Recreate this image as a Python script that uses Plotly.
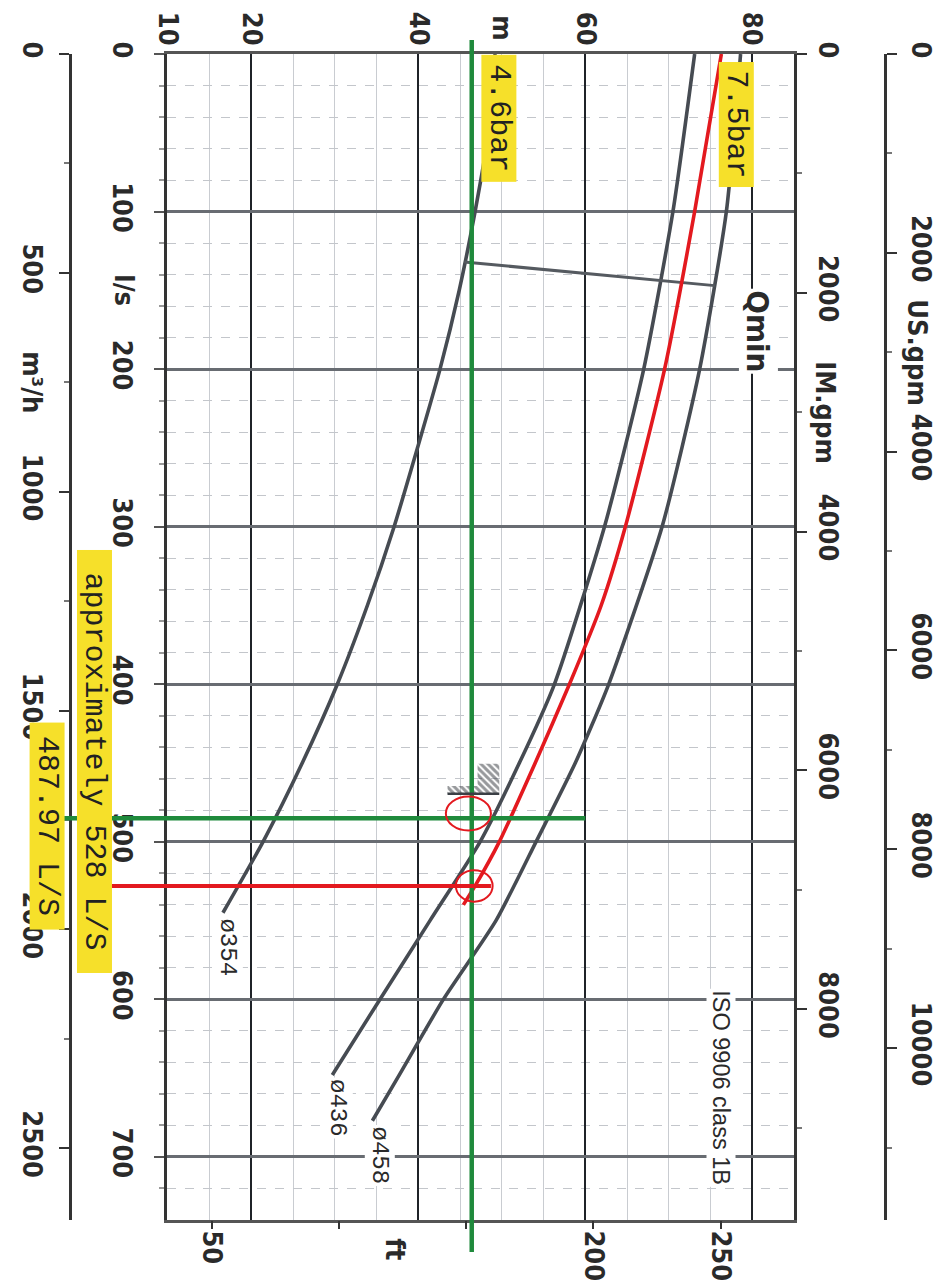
import plotly.graph_objects as go

# ---------------- data ----------------
# axis extents: head (m) horizontal, flow (l/s) vertical (downwards)
H_RANGE = [9.9, 85.0]
Q_RANGE = [740.0, 0.0]

M3H_PER_LS = 3.6
USGPM_PER_LS = 15.8503
IMGPM_PER_LS = 13.1981
FT_PER_M = 3.28084

head_major = [10, 20, 40, 60, 80]
head_minor = [15, 25, 30, 35, 45, 50, 55, 65, 70, 75]
flow_major = [0, 100, 200, 300, 400, 500, 600, 700]
flow_minor = [q for q in range(20, 740, 20) if q % 100 != 0]
m3h_ticks = [0, 500, 1000, 1500, 2000, 2500]
m3h_minor = [250, 750, 1250, 1750, 2250]
usgpm_ticks = [0, 2000, 4000, 6000, 8000, 10000]
usgpm_minor = [1000, 3000, 5000, 7000, 9000, 11000]
imgpm_ticks = [0, 2000, 4000, 6000, 8000]
imgpm_minor = [1000, 3000, 5000, 7000, 9000]
ft_ticks = [50, 100, 150, 200, 250]
ft_ticktext = ["50", "", "", "200", "250"]

# pump curves (flow l/s, head m)
q354 = [0, 50, 100, 150, 200, 250, 300, 350, 400, 450, 500, 545]
h354 = [49.2, 48.4, 46.8, 44.9, 42.6, 39.9, 37.1, 33.9, 30.3, 26.1, 21.4, 16.6]
q436 = [0, 100, 200, 300, 400, 450, 500, 550, 600, 648]
h436 = [73.1, 70.5, 67.0, 62.3, 56.3, 52.1, 47.4, 41.4, 35.4, 29.7]
q458 = [0, 100, 200, 300, 400, 450, 500, 550, 600, 650, 677]
h458 = [78.6, 76.9, 73.7, 69.2, 62.8, 58.8, 54.1, 49.3, 43.0, 37.5, 34.5]
q_red = [0, 100, 200, 300, 350, 400, 450, 500, 528, 540]
h_red = [76.3, 73.1, 69.5, 64.8, 61.9, 58.1, 54.0, 49.7, 46.8, 45.4]

# Qmin line
qmin_q = [132, 147]
qmin_h = [45.5, 75.5]

# operating point lines
design_head = 46.4          # 4.6 bar
q_green = 485.0             # 487.97 L/S
green_end_h = 60.0
q_redline = 528.0           # approx 528 L/S
red_end_h = 48.7

# red circles (centre head, centre flow, half-width m, half-height l/s)
circ_h = [46.0, 46.7]
circ_q = [482.0, 528.0]
circ_dh = [2.7, 2.2]
circ_dq = [10.8, 10.0]

# hatched mark
hatch_h = [43.5, 49.7, 49.7, 47.1, 47.1, 43.5, 43.5]
hatch_q = [469.5, 469.5, 450.5, 450.5, 464.5, 464.5, 469.5]

# ---------------- layout geometry (reference pixel positions) ----------------
W, HGT = 945, 1280
OFF = 8                     # page body offset of the figure
REF_L, REF_R, REF_T, REF_B = 167, 794, 54, 1220
MT = REF_T - OFF
MB = HGT - (REF_B - OFF)
X_DOM = [(REF_L - OFF) / W, (REF_R - OFF) / W]


def px(x_ref):
    return (x_ref - OFF) / W


def py(y_ref):
    return (HGT - MB - (y_ref - OFF)) / (HGT - MT - MB)


def h_to_paper(h):
    return X_DOM[0] + (h - H_RANGE[0]) / (H_RANGE[1] - H_RANGE[0]) * (X_DOM[1] - X_DOM[0])


SANS_N = "Liberation Sans Narrow, Arial Narrow, DejaVu Sans Condensed, Liberation Sans, sans-serif"
TICKFONT = dict(family=SANS_N, size=27, color="#2a2a2a", weight="bold")
MONO = "Liberation Mono, DejaVu Sans Mono, monospace"
GRAY = "#464b52"
RED = "#e3191f"
GREEN = "#1f8a3c"
YELLOW = "#f6e02a"

fig = go.Figure()

for qq, hh in [(q354, h354), (q436, h436), (q458, h458)]:
    fig.add_trace(go.Scatter(x=hh, y=qq, mode="lines", line=dict(color=GRAY, width=3.6, shape="spline", smoothing=0.6),
                             hoverinfo="skip", showlegend=False))
fig.add_trace(go.Scatter(x=qmin_h, y=qmin_q, mode="lines", line=dict(color="#555a60", width=3),
                         hoverinfo="skip", showlegend=False))
fig.add_trace(go.Scatter(x=h_red, y=q_red, mode="lines", line=dict(color=RED, width=3.6, shape="spline", smoothing=0.6),
                         hoverinfo="skip", showlegend=False))
fig.add_trace(go.Scatter(x=hatch_h, y=hatch_q, mode="lines", fill="toself", line=dict(width=0, color="rgba(0,0,0,0)"),
                         fillcolor="rgba(0,0,0,0)",
                         fillpattern=dict(shape="\\", fgcolor="#2e3237", bgcolor="rgba(0,0,0,0)", size=5, solidity=0.6),
                         hoverinfo="skip", showlegend=False))

shapes = []
shapes.append(dict(type="line", xref="x", yref="paper", x0=design_head, x1=design_head,
                   y0=py(1252), y1=py(40), line=dict(color=GREEN, width=4.5)))
shapes.append(dict(type="line", xref="paper", yref="y", x0=px(63), x1=h_to_paper(green_end_h),
                   y0=q_green, y1=q_green, line=dict(color=GREEN, width=4.5)))
shapes.append(dict(type="line", xref="paper", yref="y", x0=px(110), x1=h_to_paper(red_end_h),
                   y0=q_redline, y1=q_redline, line=dict(color=RED, width=4)))
for ch, cq, dh, dq in zip(circ_h, circ_q, circ_dh, circ_dq):
    shapes.append(dict(type="circle", xref="x", yref="y", x0=ch - dh, x1=ch + dh, y0=cq - dq, y1=cq + dq,
                       line=dict(color=RED, width=2)))
shapes.append(dict(type="line", xref="x", yref="y", x0=hatch_h[0], x1=hatch_h[1], y0=hatch_q[0], y1=hatch_q[0],
                   line=dict(color="#3a3f45", width=2.5)))

ann = []


def label(text, x, y, xref="x", yref="y", size=27, family=SANS_N, bg=None, width=None, height=None,
          color="#2a2a2a", weight="bold"):
    d = dict(text=text, x=x, y=y, xref=xref, yref=yref, showarrow=False, textangle=90,
             font=dict(family=family, size=size, color=color, weight=weight),
             xanchor="center", yanchor="middle", borderpad=1)
    if bg:
        d["bgcolor"] = bg
    if width:
        d["width"] = width
    if height:
        d["height"] = height
    ann.append(d)


# unit labels
label("m", 50, py(28), yref="paper")
label("l/s", px(125), 150, xref="paper")
label("m³/h", px(33), 750 / M3H_PER_LS, xref="paper")
label("IM.gpm", px(826), 3000 / IMGPM_PER_LS, xref="paper")
label("US.gpm", px(918), 3000 / USGPM_PER_LS, xref="paper")
label("ft", 122 / FT_PER_M, py(1250), yref="paper")
# curve labels
label("ø354", 17.2, 567, size=24, family=MONO, bg="white", weight="normal")
label("ø436", 30.4, 669, size=24, family=MONO, bg="white", weight="normal")
label("ø458", 35.4, 699, size=24, family=MONO, bg="white", weight="normal")
label("Qmin", 80.7, 176, size=31, bg="white")
label("ISO 9906 class 1B", 76.3, 656, size=23.5, bg="white", family="Liberation Sans, Arial, sans-serif",
      weight="normal")
# yellow call-outs
label("4.6bar", 49.7, 41, size=30, family=MONO, bg=YELLOW, width=124, height=32, color="#222", weight="normal")
label("7.5bar", 78.1, 45, size=30, family=MONO, bg=YELLOW, width=122, height=32, color="#222", weight="normal")
label("approximately 528 L/S", px(94), 449, xref="paper", size=30, family=MONO, bg=YELLOW, width=420, height=32,
      color="#222", weight="normal")
label("487.97 L/S", px(47), 490, xref="paper", size=30, family=MONO, bg=YELLOW, width=204, height=32,
      color="#222", weight="normal")

common_y = dict(overlaying="y", showgrid=False, zeroline=False, ticks="outside", ticklen=10, tickwidth=2,
                tickcolor="#333", tickangle=90, tickfont=TICKFONT, showline=True, linecolor="#333", linewidth=2.5,
                automargin=False)

fig.update_layout(
    width=W, height=HGT, margin=dict(l=0, r=0, t=MT, b=MB, pad=0, autoexpand=False),
    paper_bgcolor="white", plot_bgcolor="white", showlegend=False,
    xaxis=dict(domain=X_DOM, range=H_RANGE, side="top", tickmode="array", tickvals=head_major,
               tickangle=90, tickfont=TICKFONT, ticks="", ticklabelstandoff=-4, automargin=False,
               showgrid=True, gridcolor="#1f2328", gridwidth=2.2,
               zeroline=False, showline=True, mirror=True, linecolor="#555", linewidth=2.8,
               minor=dict(tickmode="array", tickvals=head_minor, showgrid=True, gridcolor="#c9ccd1", gridwidth=1)),
    xaxis2=dict(overlaying="x", anchor="y", side="bottom", range=[H_RANGE[0] * FT_PER_M, H_RANGE[1] * FT_PER_M],
                tickmode="array", tickvals=ft_ticks, ticktext=ft_ticktext, ticks="outside", ticklen=8, tickwidth=2,
                tickcolor="#333", tickangle=90, tickfont=TICKFONT, ticklabelstandoff=-4, automargin=False,
                showgrid=False, zeroline=False, showline=False),
    yaxis=dict(range=Q_RANGE, tickmode="array", tickvals=flow_major, tickangle=90, tickfont=TICKFONT,
               ticks="outside", ticklen=10, tickwidth=2, tickcolor="#555", ticklabelstandoff=9, automargin=False,
               showgrid=True, gridcolor="#686c72", gridwidth=2.6, zeroline=False,
               showline=True, mirror=True, linecolor="#333", linewidth=2.5,
               minor=dict(tickmode="array", tickvals=flow_minor, showgrid=True, gridcolor="#c3c6cb", gridwidth=1,
                          griddash="dash", ticks="outside", ticklen=5, tickcolor="#999")),
    yaxis2=dict(common_y, anchor="free", position=px(70), side="left",
                range=[Q_RANGE[0] * M3H_PER_LS, 0], tickmode="array", tickvals=m3h_ticks,
                ticktext=[str(v) for v in m3h_ticks], ticklabelstandoff=4,
                minor=dict(tickmode="array", tickvals=m3h_minor, ticks="outside", ticklen=5, tickcolor="#777")),
    yaxis3=dict(common_y, anchor="x", side="right",
                range=[Q_RANGE[0] * IMGPM_PER_LS, 0], tickmode="array", tickvals=imgpm_ticks,
                ticktext=[str(v) for v in imgpm_ticks], ticklabelstandoff=1,
                minor=dict(tickmode="array", tickvals=imgpm_minor, ticks="outside", ticklen=5, tickcolor="#777")),
    yaxis4=dict(common_y, anchor="free", position=px(885), side="right",
                range=[Q_RANGE[0] * USGPM_PER_LS, 0], tickmode="array", tickvals=usgpm_ticks,
                ticktext=[str(v) for v in usgpm_ticks], ticklabelstandoff=4,
                minor=dict(tickmode="array", tickvals=usgpm_minor, ticks="outside", ticklen=5, tickcolor="#777")),
    shapes=shapes, annotations=ann,
)

# invisible traces to activate the secondary axes
fig.add_trace(go.Scatter(x=[None], y=[None], xaxis="x2", yaxis="y", hoverinfo="skip", showlegend=False))
fig.add_trace(go.Scatter(x=[None], y=[None], xaxis="x", yaxis="y2", hoverinfo="skip", showlegend=False))
fig.add_trace(go.Scatter(x=[None], y=[None], xaxis="x", yaxis="y3", hoverinfo="skip", showlegend=False))
fig.add_trace(go.Scatter(x=[None], y=[None], xaxis="x", yaxis="y4", hoverinfo="skip", showlegend=False))

fig.write_html("out.html")
